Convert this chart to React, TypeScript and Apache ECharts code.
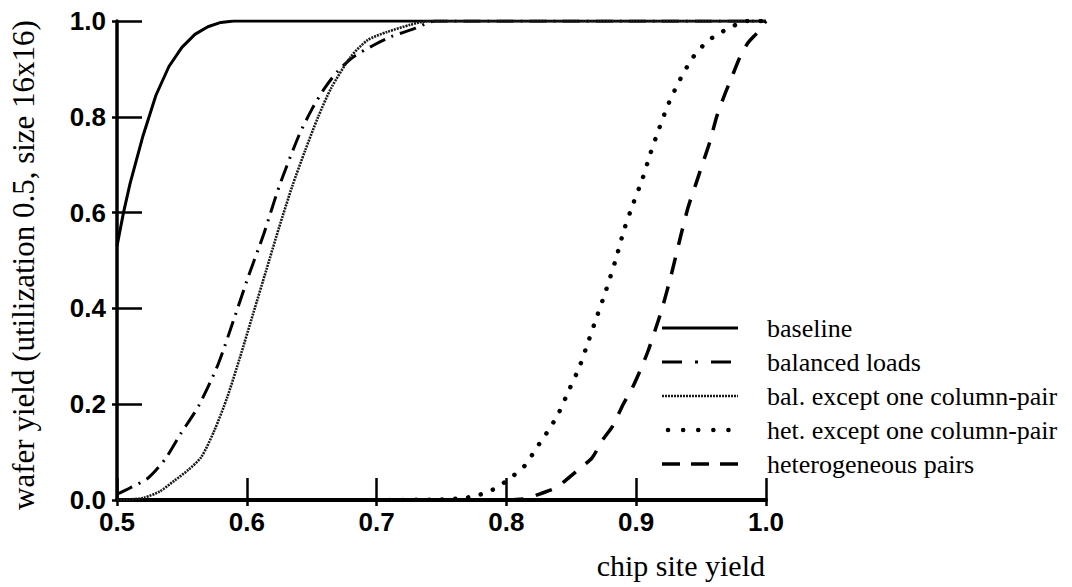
import React, { useEffect, useRef } from "react";
import * as echarts from "echarts";

// Series names (legend order)
const seriesNames = [
  "baseline",
  "balanced loads",
  "bal. except one column-pair",
  "het. except one column-pair",
  "heterogeneous pairs",
];

// chip site yield (x) vs wafer yield (y) for each configuration
const baselineX = [0.5, 0.505, 0.51, 0.52, 0.53, 0.54, 0.55, 0.56, 0.57, 0.58, 0.59, 1.0];
const baselineY = [0.53, 0.6, 0.66, 0.76, 0.845, 0.905, 0.945, 0.972, 0.988, 0.997, 1.0, 1.0];

const balancedX = [0.5, 0.51, 0.524, 0.537, 0.549, 0.563, 0.578, 0.591, 0.601, 0.613, 0.625, 0.64, 0.65, 0.66, 0.67, 0.682, 0.698, 0.711, 0.73, 0.745, 1.0];
const balancedY = [0.012, 0.025, 0.046, 0.085, 0.138, 0.197, 0.284, 0.385, 0.465, 0.555, 0.655, 0.76, 0.815, 0.86, 0.895, 0.925, 0.95, 0.967, 0.985, 1.0, 1.0];

const balExceptX = [0.5, 0.51, 0.521, 0.533, 0.544, 0.555, 0.565, 0.575, 0.585, 0.595, 0.605, 0.615, 0.625, 0.635, 0.645, 0.655, 0.665, 0.68, 0.693, 0.708, 0.726, 0.74, 1.0];
const balExceptY = [0, 0.001, 0.005, 0.018, 0.04, 0.063, 0.09, 0.145, 0.215, 0.3, 0.39, 0.48, 0.57, 0.655, 0.73, 0.8, 0.86, 0.925, 0.96, 0.977, 0.992, 1.0, 1.0];

const hetExceptX = [0.7, 0.75, 0.767, 0.778, 0.787, 0.797, 0.805, 0.813, 0.82, 0.826, 0.833, 0.84, 0.848, 0.856, 0.863, 0.87, 0.877, 0.884, 0.891, 0.898, 0.905, 0.911, 0.918, 0.925, 0.934, 0.944, 0.955, 0.966, 0.975, 0.985, 1.0];
const hetExceptY = [0, 0.001, 0.004, 0.01, 0.018, 0.034, 0.05, 0.068, 0.095, 0.12, 0.148, 0.18, 0.228, 0.276, 0.33, 0.385, 0.44, 0.5, 0.567, 0.621, 0.672, 0.724, 0.778, 0.828, 0.879, 0.925, 0.958, 0.977, 0.99, 1.0, 1.0];

const heteroX = [0.8, 0.816, 0.826, 0.838, 0.847, 0.857, 0.866, 0.874, 0.882, 0.89, 0.897, 0.903, 0.909, 0.915, 0.92, 0.927, 0.934, 0.94, 0.946, 0.952, 0.957, 0.962, 0.968, 0.974, 0.98, 0.986, 0.993, 1.0];
const heteroY = [0, 0.003, 0.013, 0.025, 0.044, 0.067, 0.088, 0.125, 0.155, 0.2, 0.234, 0.27, 0.31, 0.358, 0.4, 0.47, 0.548, 0.611, 0.66, 0.709, 0.75, 0.8, 0.845, 0.885, 0.925, 0.954, 0.975, 1.0];

const xTitle = "chip site yield";
const yTitle = "wafer yield (utilization 0.5, size 16x16)";

const zip = (xs: number[], ys: number[]) => xs.map((x, i) => [x, ys[i]]);

const seriesData = [
  zip(baselineX, baselineY),
  zip(balancedX, balancedY),
  zip(balExceptX, balExceptY),
  zip(hetExceptX, hetExceptY),
  zip(heteroX, heteroY),
];

// Stroke styles of the five curves
const curveStyles: any[] = [
  { width: 3, type: "solid", color: "#000" },
  { width: 3, type: [17, 7, 2, 7], color: "#000" },
  { width: 2.6, type: [2, 1], color: "#1a1a1a" },
  { width: 4.5, type: [0.1, 13], cap: "round", color: "#000" },
  { width: 3.5, type: [17, 13], color: "#000" },
];

// Dash patterns of the legend keys
const legendDash: any[] = [null, [20, 13, 3, 13], [2, 1], [0.1, 15], [18, 11]];

const serif = "Liberation Serif";
const sans = "Liberation Sans";

export default function App() {
  const ref = useRef<HTMLDivElement>(null);

  useEffect(() => {
    const chart = echarts.init(ref.current!, null, { renderer: "svg" });

    const legendTop = 328;
    const legendStep = 34;
    const legendItems: any[] = [];
    seriesNames.forEach((name, i) => {
      const y = legendTop + i * legendStep;
      const st = curveStyles[i];
      const startX = i === 3 ? 668 : 662;
      legendItems.push({
        type: "line",
        shape: { x1: startX, y1: y, x2: 738, y2: y },
        style: {
          stroke: st.color,
          lineWidth: st.width,
          lineDash: legendDash[i] || undefined,
          lineCap: st.cap || "butt",
        },
        silent: true,
      });
      legendItems.push({
        type: "text",
        x: 767,
        y,
        style: {
          text: name,
          fill: "#000",
          fontFamily: serif,
          fontSize: 26,
          align: "left",
          verticalAlign: "middle",
        },
        silent: true,
      });
    });

    const option: any = {
      animation: false,
      backgroundColor: "#fff",
      grid: { left: 117, right: 306, top: 21, bottom: 87, outerBoundsMode: "none" },
      xAxis: [
        {
          type: "value",
          min: 0.5,
          max: 1.0,
          interval: 0.1,
          axisLine: { lineStyle: { color: "#000", width: 4 } },
          axisTick: { inside: true, length: 22, lineStyle: { color: "#000", width: 2.5 } },
          axisLabel: {
            formatter: (v: number) => v.toFixed(1),
            fontFamily: sans,
            fontWeight: "bold",
            fontSize: 26,
            color: "#000",
            margin: 9,
          },
          splitLine: { show: false },
        },
        {
          type: "value",
          position: "bottom",
          min: 0.5,
          max: 1.0,
          interval: 0.1,
          axisLine: { show: false },
          axisTick: { inside: false, length: 6, lineStyle: { color: "#000", width: 2.5 } },
          axisLabel: { show: false },
          splitLine: { show: false },
        },
      ],
      yAxis: [
        {
          type: "value",
          min: 0,
          max: 1,
          interval: 0.2,
          axisLine: { lineStyle: { color: "#000", width: 3.5 } },
          axisTick: { inside: true, length: 25, lineStyle: { color: "#000", width: 2.5 } },
          axisLabel: {
            formatter: (v: number) => v.toFixed(1),
            fontFamily: sans,
            fontWeight: "bold",
            fontSize: 26,
            color: "#000",
            margin: 11,
          },
          splitLine: { show: false },
        },
        {
          type: "value",
          position: "left",
          min: 0,
          max: 1,
          interval: 0.2,
          axisLine: { show: false },
          axisTick: { inside: false, length: 5, lineStyle: { color: "#000", width: 2.5 } },
          axisLabel: { show: false },
          splitLine: { show: false },
        },
      ],
      series: seriesNames.map((name, i) => ({
        name,
        type: "line",
        data: seriesData[i],
        showSymbol: false,
        symbol: "none",
        smooth: i === 0 ? false : 0.25,
        lineStyle: curveStyles[i],
        z: 2 + i,
      })),
      graphic: [
        ...legendItems,
        {
          type: "text",
          x: 765,
          y: 565,
          style: {
            text: xTitle,
            fill: "#000",
            fontFamily: serif,
            fontSize: 30,
            align: "right",
            verticalAlign: "middle",
          },
          silent: true,
        },
        {
          type: "text",
          x: 23,
          y: 265,
          rotation: Math.PI / 2,
          style: {
            text: yTitle,
            fill: "#000",
            fontFamily: serif,
            fontSize: 31,
            align: "center",
            verticalAlign: "middle",
          },
          silent: true,
        },
      ],
    };

    chart.setOption(option);
    return () => chart.dispose();
  }, []);

  return (
    <div
      ref={ref}
      style={{ position: "fixed", left: 0, top: 0, width: 1072, height: 587, background: "#fff" }}
    />
  );
}
